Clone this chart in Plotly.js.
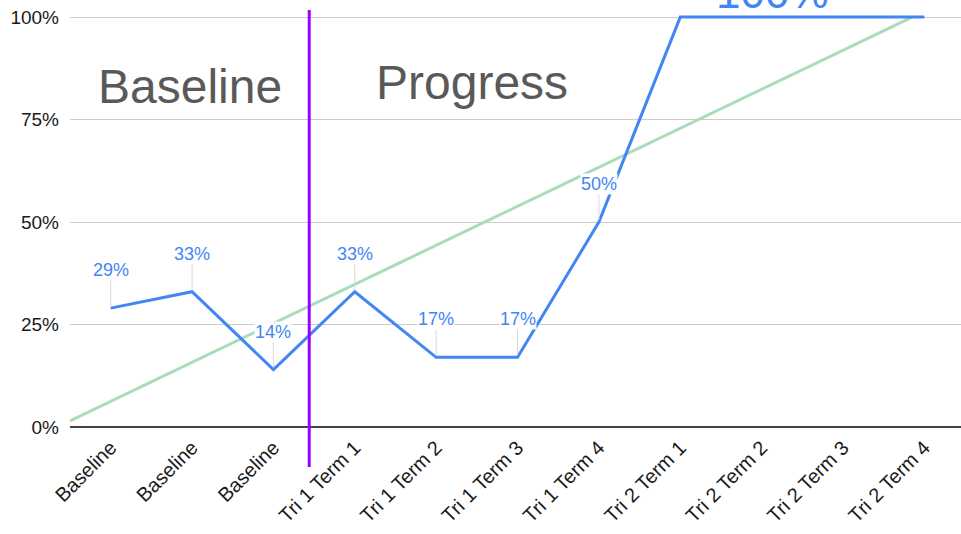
<!DOCTYPE html>
<html>
<head>
<meta charset="utf-8">
<script src="https://cdn.plot.ly/plotly-3.0.1.min.js"></script>
<style>html,body{margin:0;padding:0;background:#fff;}#chart{width:961px;height:534px;}</style>
</head>
<body>
<div id="chart"></div>
<script>
// ---- data ----
const categories = ["Baseline","Baseline","Baseline","Tri 1 Term 1","Tri 1 Term 2","Tri 1 Term 3","Tri 1 Term 4","Tri 2 Term 1","Tri 2 Term 2","Tri 2 Term 3","Tri 2 Term 4"];
const scores = [29, 33, 14, 33, 17, 17, 50, 100, 100, 100, 100];
const labeledCount = 7;            // points carrying a small data label
const trendX = [-0.5, 9.85];       // trendline endpoints
const trendY = [1.5, 100];
const dividerX = 2.44;             // purple divider between Baseline and Progress
const sectionLabels = ["Baseline", "Progress"];
const sectionX = [0.98, 4.44];
const sectionY = [83, 84];
const bigLabel = "100%";
const bigLabelX = 8.13;
const yTicks = [0, 25, 50, 75, 100];
const yTickText = ["0%", "25%", "50%", "75%", "100%"];

const idx = categories.map((_, i) => i);
const FONT = '"Liberation Sans", Arial, sans-serif';
const BLUE = '#4285F4';

const traces = [
  {x: trendX, y: trendY, type: 'scatter', mode: 'lines',
   line: {color: '#a9dcb8', width: 3}, hoverinfo: 'skip'},
  {x: idx, y: scores, type: 'scatter', mode: 'lines',
   line: {color: BLUE, width: 3}, cliponaxis: false, hoverinfo: 'skip'}
];

const annotations = [];
for (let i = 0; i < labeledCount; i++) {
  annotations.push({
    x: idx[i], y: scores[i], xref: 'x', yref: 'y',
    text: scores[i] + '%', showarrow: true, arrowhead: 0, arrowwidth: 1,
    arrowcolor: '#d9d9d9', ax: 0, ay: -38, standoff: 2,
    font: {family: FONT, size: 18, color: BLUE},
    bgcolor: 'rgba(255,255,255,0.95)', borderpad: 0
  });
}
sectionLabels.forEach((t, k) => annotations.push({
  x: sectionX[k], y: sectionY[k], xref: 'x', yref: 'y', text: t, showarrow: false,
  font: {family: FONT, size: 48, color: '#595959'}
}));
annotations.push({
  x: bigLabelX, y: 1, xref: 'x', yref: 'paper', yanchor: 'bottom', yshift: -6,
  text: bigLabel, showarrow: false, font: {family: FONT, size: 44, color: BLUE}
});

const layout = {
  width: 961, height: 534,
  margin: {l: 70, r: 0, t: 13, b: 107},
  paper_bgcolor: '#fff', plot_bgcolor: '#fff',
  showlegend: false, hovermode: false,
  font: {family: FONT, color: '#222'},
  xaxis: {
    range: [-0.5, 10.45], tickmode: 'array', tickvals: idx, ticktext: categories,
    tickangle: -45, tickfont: {family: FONT, size: 20, color: '#1a1a1a'},
    showgrid: false, zeroline: false, showline: false, ticks: '', ticklabelstandoff: 4
  },
  yaxis: {
    range: [0, 101], tickmode: 'array', tickvals: yTicks, ticktext: yTickText,
    tickfont: {family: FONT, size: 19, color: '#1a1a1a'},
    gridcolor: '#cccccc', gridwidth: 1,
    zeroline: true, zerolinecolor: '#444', zerolinewidth: 2,
    showline: false, ticks: '', ticklabelstandoff: 10
  },
  shapes: [{
    type: 'line', xref: 'x', yref: 'paper', x0: dividerX, x1: dividerX,
    y0: -0.0966, y1: 1.007, line: {color: '#9900ff', width: 3}
  }],
  annotations: annotations
};

Plotly.newPlot('chart', traces, layout, {staticPlot: true, displayModeBar: false});
</script>
</body>
</html>
